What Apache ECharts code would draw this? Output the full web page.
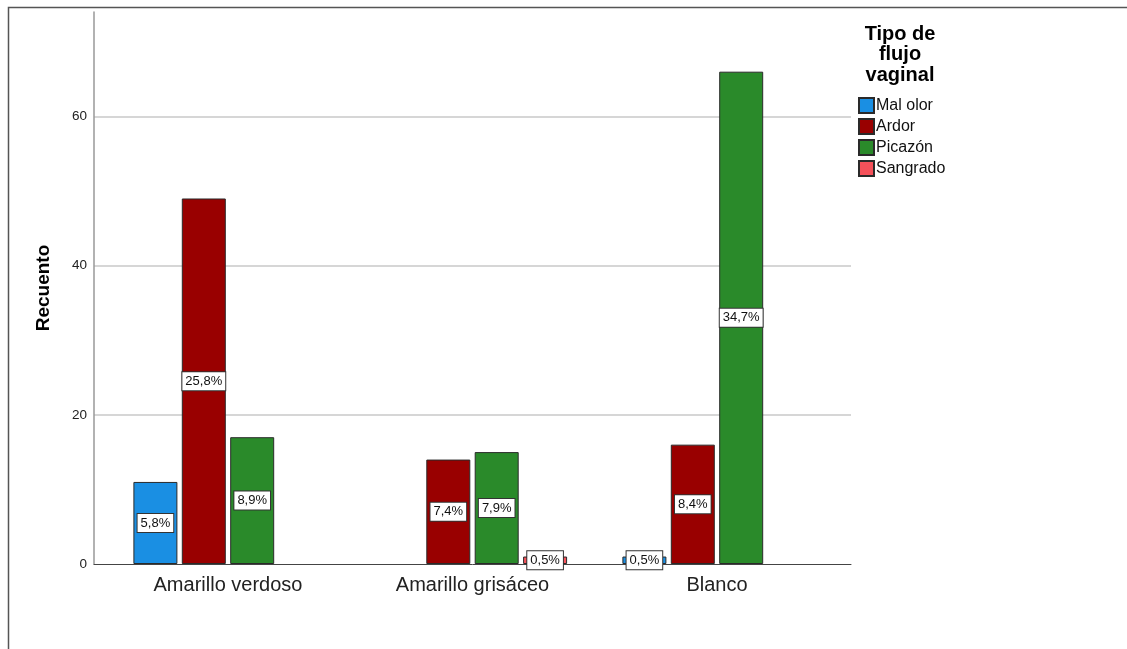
<!DOCTYPE html>
<html>
<head>
<meta charset="utf-8">
<script src="https://cdn.jsdelivr.net/npm/echarts@6/dist/echarts.min.js"></script>
<style>
html,body{margin:0;padding:0;background:#fff;}
#c{width:1127px;height:649px;}
</style>
</head>
<body>
<div id="c"></div>
<script>
const categories = ['Amarillo verdoso', 'Amarillo grisáceo', 'Blanco'];
const seriesNames = ['Mal olor', 'Ardor', 'Picazón', 'Sangrado'];
const malOlor = [11, null, 1];
const ardor = [49, 14, 16];
const picazon = [17, 15, 66];
const sangrado = [null, 1, null];
const yTicks = [0, 20, 40, 60];
const colors = ['#1a8fe3', '#990000', '#2a8a2a', '#f5515a'];

const allValues = [malOlor, ardor, picazon, sangrado];
const total = allValues.flat().reduce((s, v) => s + (v || 0), 0);

const chart = echarts.init(document.getElementById('c'));
const FONT = '"Liberation Sans", Arial, sans-serif';

const series = allValues.map((vals, i) => ({
  name: seriesNames[i],
  type: 'bar',
  xAxisIndex: 1,
  yAxisIndex: 1,
  data: vals,
  barWidth: 44,
  barGap: '10%',
  itemStyle: { color: colors[i], borderColor: '#2a2a2a', borderWidth: 1 },
  label: {
    show: true,
    position: 'inside',
    formatter: p => (p.value / total * 100).toFixed(1).replace('.', ',') + '%',
    color: '#111',
    fontFamily: FONT,
    fontSize: 13,
    backgroundColor: '#fff',
    borderColor: '#333',
    borderWidth: 1,
    padding: [3, 3, 2, 3]
  },
  emphasis: { disabled: true }
}));

chart.setOption({
  animation: false,
  backgroundColor: '#fff',
  textStyle: { fontFamily: FONT },
  title: {
    text: 'Tipo de\nflujo\nvaginal',
    left: 895,
    top: 19,
    textAlign: 'center',
    textStyle: { fontFamily: FONT, fontWeight: 'bold', fontSize: 20, lineHeight: 20.5, color: '#000' }
  },
  legend: {
    orient: 'vertical',
    left: 853,
    top: 92,
    itemWidth: 15,
    itemHeight: 15,
    itemGap: 4,
    icon: 'rect',
    data: seriesNames,
    textStyle: { fontFamily: FONT, fontSize: 16, color: '#111', padding: [0, 0, 0, -3] }
  },
  grid: [
    { left: 94, right: 276, top: 12, bottom: 85, containLabel: false },
    { left: 105.75, right: 287.75, top: 12, bottom: 85, containLabel: false }
  ],
  xAxis: [
    {
      type: 'category',
      gridIndex: 0,
      data: categories,
      axisLine: { lineStyle: { color: '#444', width: 1 } },
      axisTick: { show: false },
      axisLabel: { show: false },
      splitLine: { show: false }
    },
    {
      type: 'category',
      gridIndex: 1,
      data: categories,
      axisLine: { show: false },
      axisTick: { show: false },
      axisLabel: { fontFamily: FONT, fontSize: 20, color: '#222', margin: 11 },
      splitLine: { show: false }
    }
  ],
  yAxis: [
    {
      type: 'value',
      gridIndex: 0,
      min: 0,
      max: 74,
      interval: 20,
      name: 'Recuento',
      nameLocation: 'middle',
      nameRotate: 90,
      nameGap: 41,
      nameTextStyle: { fontFamily: FONT, fontWeight: 'bold', fontSize: 19, color: '#000' },
      axisLine: { show: true, lineStyle: { color: '#999', width: 1.5 } },
      axisTick: { show: false },
      axisLabel: {
        fontFamily: FONT, fontSize: 13.5, color: '#222', margin: 7,
        formatter: v => yTicks.includes(v) ? String(v) : ''
      },
      splitLine: { show: true, showMaxLine: false, showMinLine: false, lineStyle: { color: '#c8c8c8', width: 1.5 } }
    },
    {
      type: 'value',
      gridIndex: 1,
      min: 0,
      max: 74,
      interval: 20,
      show: false,
      splitLine: { show: false }
    }
  ],
  graphic: [{
    type: 'rect',
    shape: { x: 8.5, y: 7.5, width: 1200, height: 800 },
    style: { fill: null, stroke: '#555', lineWidth: 1.5 },
    silent: true,
    z: 100
  }],
  series: series
});
</script>
</body>
</html>
